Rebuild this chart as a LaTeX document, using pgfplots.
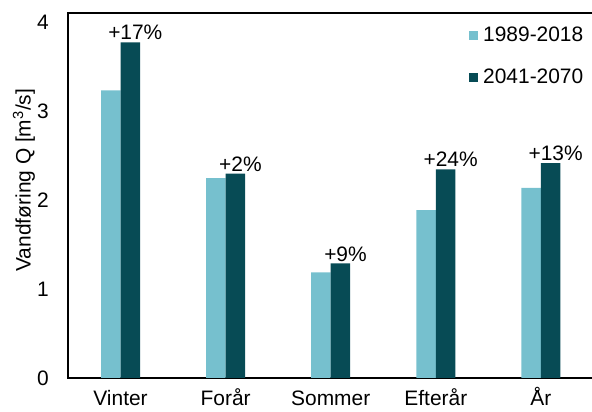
\documentclass[border=0pt]{standalone}
\usepackage{pgfplots}
\pgfplotsset{compat=1.18}
\usepackage{fontspec}
\setmainfont{Liberation Sans}
\definecolor{lightc}{HTML}{76C0CE}
\definecolor{darkc}{HTML}{074B55}
\newcommand{\chartfont}{\fontsize{21}{25}\selectfont}
\begin{document}
\begin{tikzpicture}
\begin{axis}[
  scale only axis,
  width=524bp, height=365bp,
  xmin=-0.5, xmax=4.486,
  ymin=0, ymax=4.11,
  axis x line*=bottom, axis y line*=left,
  axis line style={line width=1.8bp, black, line cap=rect},
  ybar=0pt, bar width=19.5bp,
  xtick={0,1,2,3,4},
  xticklabels={Vinter,Forår,Sommer,Efterår,År},
  ytick={0,1,2,3,4},
  major tick length=0pt,
  /pgf/number format/assume math mode=true,
  ticklabel style={font=\chartfont},
  xticklabel style={anchor=north, inner sep=0pt, text height=15bp, yshift=-12bp},
  yticklabel style={anchor=east, inner sep=0pt, xshift=-19bp},
  ylabel={Vandføring Q [m\textsuperscript{3}/s]},
  ylabel style={font=\chartfont, at={(axis description cs:-0.084,0.542)}, anchor=center},
  legend image code/.code={\fill[#1] (0bp,-4.5bp) rectangle (9bp,4.5bp);},
  legend style={draw=none, fill=none, font=\chartfont, at={(rel axis cs:0.7653,0.9616)}, anchor=north west,
    inner sep=0pt, row sep=26bp, column sep=5bp, nodes={inner sep=0pt}},
  legend cell align=left,
]
\addplot[fill=lightc, draw=none] coordinates {(0,3.24) (1,2.25) (2,1.19) (3,1.89) (4,2.14)};
\addlegendentry{1989-2018}
\addplot[fill=darkc, draw=none, nodes near coords, point meta=explicit symbolic,
  nodes near coords style={anchor=south, inner sep=0pt, yshift=2bp, xshift=5bp, font=\chartfont, text=black}]
  coordinates {(0,3.78)[+17\%] (1,2.30)[+2\%] (2,1.29)[+9\%] (3,2.35)[+24\%] (4,2.42)[+13\%]};
\addlegendentry{2041-2070}
\draw[line width=1.8bp, black, line cap=rect] (rel axis cs:0,1) -- (rel axis cs:1,1);
\end{axis}
\pgfresetboundingbox
\useasboundingbox (-68bp,-34bp) rectangle (524bp,378bp);
\end{tikzpicture}
\end{document}
